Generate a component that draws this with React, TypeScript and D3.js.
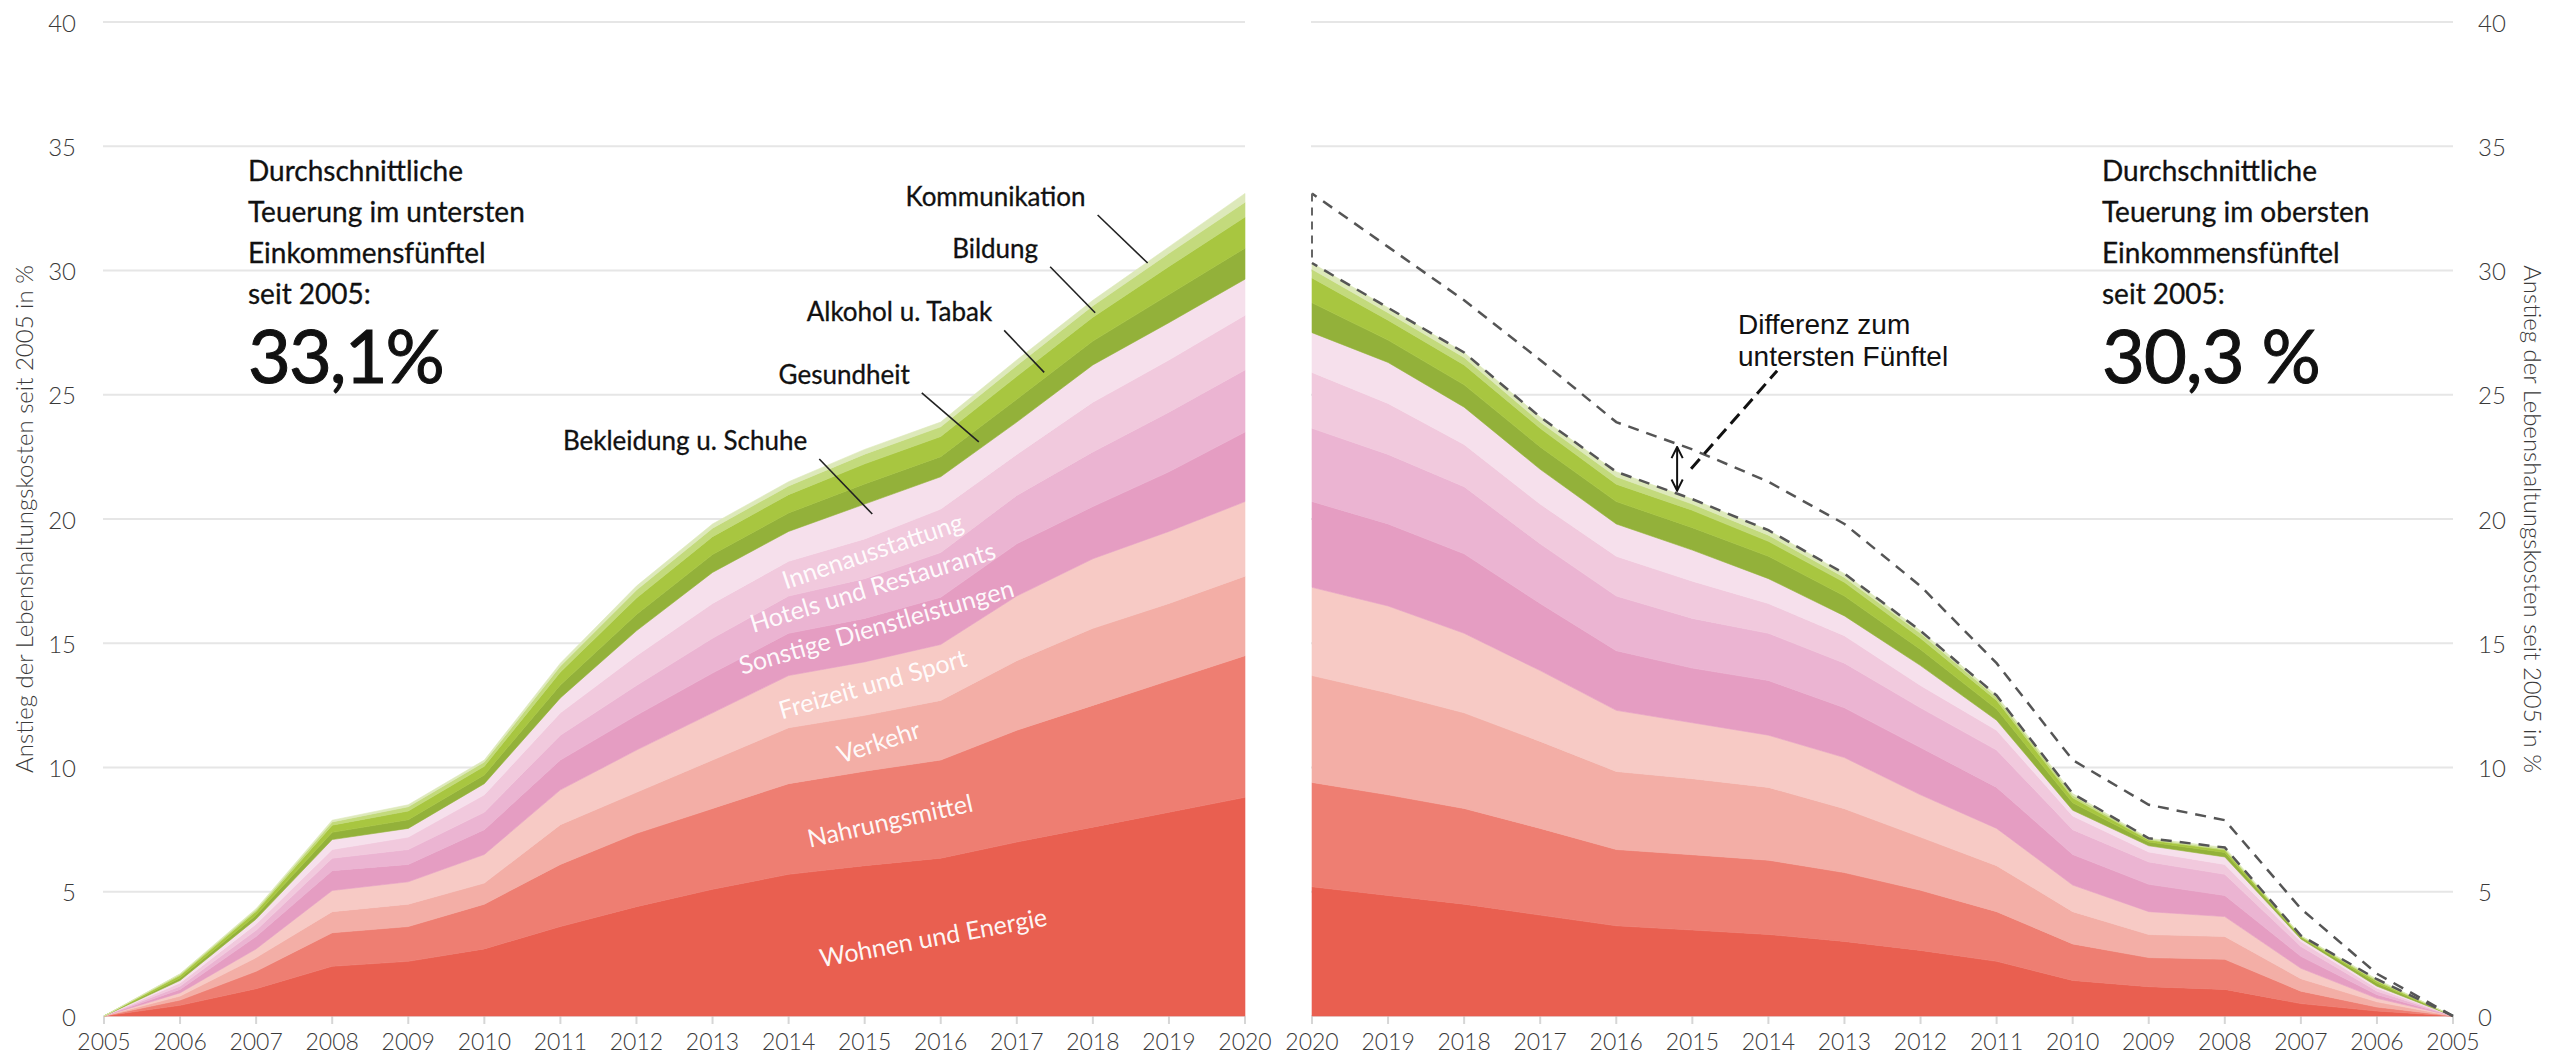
import * as d3 from 'd3';

// Teuerung nach Einkommensfünftel, Beiträge der Ausgabengruppen (Prozentpunkte)
const years = [2005, 2006, 2007, 2008, 2009, 2010, 2011, 2012, 2013, 2014, 2015, 2016, 2017, 2018, 2019, 2020];

const categories = [
  'Wohnen und Energie', 'Nahrungsmittel', 'Verkehr', 'Freizeit und Sport',
  'Sonstige Dienstleistungen', 'Hotels und Restaurants', 'Innenausstattung', 'Bekleidung u. Schuhe',
  'Gesundheit', 'Alkohol u. Tabak', 'Bildung', 'Kommunikation',
];

const colors = [
  '#e95f50', '#ee7e72', '#f3aea6', '#f7cac5',
  '#e59dc2', '#ebb4d2', '#f1c9dd', '#f6e0ec',
  '#93b13a', '#a8c640', '#c3da7c', '#dde9ba',
];

// unterstes Einkommensfünftel
const lowWohnen = [0, 0.43, 1.10, 2.00, 2.20, 2.70, 3.60, 4.40, 5.10, 5.70, 6.05, 6.35, 7.00, 7.60, 8.20, 8.80];
const lowNahrung = [0, 0.21, 0.70, 1.35, 1.40, 1.80, 2.50, 2.95, 3.25, 3.65, 3.80, 3.95, 4.50, 4.90, 5.30, 5.70];
const lowVerkehr = [0, 0.16, 0.55, 0.85, 0.90, 0.85, 1.60, 1.65, 1.95, 2.25, 2.25, 2.40, 2.80, 3.10, 3.10, 3.20];
const lowFreizeit = [0, 0.13, 0.35, 0.85, 0.90, 1.15, 1.40, 1.70, 1.90, 2.10, 2.15, 2.25, 2.60, 2.80, 2.90, 3.00];
const lowSonstige = [0, 0.14, 0.50, 0.80, 0.70, 1.00, 1.20, 1.40, 1.60, 1.70, 1.75, 1.90, 2.10, 2.10, 2.40, 2.80];
const lowHotels = [0, 0.13, 0.25, 0.50, 0.60, 0.70, 1.00, 1.20, 1.40, 1.50, 1.60, 1.80, 1.95, 2.20, 2.40, 2.50];
const lowInnen = [0, 0.13, 0.25, 0.35, 0.50, 0.70, 0.90, 1.20, 1.40, 1.40, 1.60, 1.75, 1.65, 2.00, 2.10, 2.20];
const lowBekleidung = [0, 0.10, 0.20, 0.40, 0.35, 0.45, 0.60, 1.00, 1.25, 1.20, 1.40, 1.30, 1.30, 1.50, 1.50, 1.45];
const lowGesundheit = [0, 0.10, 0.16, 0.29, 0.35, 0.35, 0.52, 0.66, 0.72, 0.74, 0.81, 0.81, 0.92, 0.96, 1.13, 1.25];
const lowAlkohol = [0, 0.10, 0.15, 0.29, 0.35, 0.35, 0.52, 0.66, 0.72, 0.74, 0.81, 0.81, 0.92, 0.96, 1.13, 1.25];
const lowBildung = [0, 0.05, 0.07, 0.13, 0.17, 0.17, 0.24, 0.32, 0.34, 0.35, 0.39, 0.39, 0.44, 0.46, 0.53, 0.60];
const lowKommunikation = [0, 0.02, 0.04, 0.07, 0.08, 0.08, 0.12, 0.16, 0.17, 0.17, 0.19, 0.19, 0.22, 0.22, 0.26, 0.35];

// oberstes Einkommensfünftel
const highWohnen = [0, 0.20, 0.50, 1.07, 1.18, 1.43, 2.20, 2.64, 3.00, 3.28, 3.46, 3.63, 4.06, 4.50, 4.85, 5.20];
const highNahrung = [0, 0.16, 0.50, 1.21, 1.17, 1.47, 2.00, 2.42, 2.77, 2.99, 3.03, 3.07, 3.49, 3.85, 4.05, 4.20];
const highVerkehr = [0, 0.21, 0.50, 0.92, 0.93, 1.30, 1.85, 2.14, 2.57, 2.93, 3.06, 3.14, 3.50, 3.85, 4.10, 4.30];
const highFreizeit = [0, 0.14, 0.42, 0.80, 0.92, 1.07, 1.50, 1.70, 2.06, 2.10, 2.25, 2.46, 2.85, 3.20, 3.50, 3.55];
const highSonstige = [0, 0.15, 0.48, 0.85, 1.10, 1.23, 1.65, 1.90, 2.00, 2.20, 2.20, 2.40, 2.70, 3.20, 3.30, 3.45];
const highHotels = [0, 0.14, 0.40, 0.85, 0.90, 1.00, 1.50, 1.60, 1.80, 1.90, 2.00, 2.20, 2.40, 2.70, 2.80, 2.95];
const highInnen = [0, 0.12, 0.20, 0.40, 0.40, 0.55, 0.80, 0.90, 1.10, 1.20, 1.50, 1.60, 1.60, 1.70, 2.05, 2.25];
const highBekleidung = [0, 0.08, 0.10, 0.30, 0.25, 0.23, 0.40, 0.80, 0.80, 1.00, 1.25, 1.30, 1.40, 1.50, 1.65, 1.60];
const highGesundheit = [0, 0.12, 0.06, 0.18, 0.15, 0.30, 0.45, 0.65, 0.80, 0.90, 0.90, 0.90, 0.90, 0.90, 0.90, 1.20];
const highAlkohol = [0, 0.08, 0.04, 0.10, 0.08, 0.20, 0.35, 0.45, 0.55, 0.60, 0.70, 0.70, 0.75, 0.80, 0.80, 1.00];
const highBildung = [0, 0.05, 0.02, 0.05, 0.04, 0.10, 0.12, 0.20, 0.20, 0.25, 0.25, 0.30, 0.25, 0.30, 0.30, 0.35];
const highKommunikation = [0, 0.03, 0.02, 0.05, 0.03, 0.07, 0.08, 0.10, 0.15, 0.20, 0.20, 0.20, 0.20, 0.20, 0.20, 0.25];

const lowSeries = [lowWohnen, lowNahrung, lowVerkehr, lowFreizeit, lowSonstige, lowHotels, lowInnen, lowBekleidung, lowGesundheit, lowAlkohol, lowBildung, lowKommunikation];
const highSeries = [highWohnen, highNahrung, highVerkehr, highFreizeit, highSonstige, highHotels, highInnen, highBekleidung, highGesundheit, highAlkohol, highBildung, highKommunikation];

const yTicks = [0, 5, 10, 15, 20, 25, 30, 35, 40];

const W = 2552;
const H = 1055;
const FONT = 'Lato, "Open Sans", sans-serif';

const xL = d3.scaleLinear().domain([2005, 2020]).range([104, 1245]);
const xR = d3.scaleLinear().domain([2020, 2005]).range([1312, 2453]);
const y = d3.scaleLinear().domain([0, 40]).range([1016, 22]);

function buildRows(series: number[][]) {
  return years.map((yr, i) => {
    const row: any = { year: yr };
    categories.forEach((c, k) => { row[c] = series[k][i]; });
    return row;
  });
}

const lowStack = d3.stack<any>().keys(categories)(buildRows(lowSeries));
const highStack = d3.stack<any>().keys(categories)(buildRows(highSeries));
const lowTotals = years.map((_, i) => d3.sum(lowSeries, s => s[i]));
const highTotals = years.map((_, i) => d3.sum(highSeries, s => s[i]));

// inner white labels: year / value on the left panel, rotation in degrees
const innerLabels = [
  { name: 'Wohnen und Energie', year: 2015.9, value: 3.2, angle: -10.5 },
  { name: 'Nahrungsmittel', year: 2015.33, value: 7.9, angle: -12.5 },
  { name: 'Verkehr', year: 2015.18, value: 11.07, angle: -18 },
  { name: 'Freizeit und Sport', year: 2015.1, value: 13.4, angle: -16 },
  { name: 'Sonstige Dienstleistungen', year: 2015.15, value: 15.7, angle: -16 },
  { name: 'Hotels und Restaurants', year: 2015.1, value: 17.3, angle: -17 },
  { name: 'Innenausstattung', year: 2015.1, value: 18.75, angle: -18.5 },
];

// leader labels: line end in data, line start offset in px
const leaderLabels = [
  { name: 'Kommunikation', year: 2018.72, value: 30.3, dx: -50, dy: -48 },
  { name: 'Bildung', year: 2018.03, value: 28.3, dx: -45, dy: -46 },
  { name: 'Alkohol u. Tabak', year: 2017.36, value: 25.9, dx: -40, dy: -42 },
  { name: 'Gesundheit', year: 2016.5, value: 23.1, dx: -57, dy: -49 },
  { name: 'Bekleidung u. Schuhe', year: 2015.1, value: 20.2, dx: -53, dy: -55 },
];

const arrowYear = 2015.2;

function Panel({ stack, x }: { stack: any[]; x: d3.ScaleLinear<number, number> }) {
  const area = d3.area<any>()
    .x(d => x(d.data.year))
    .y0(d => y(d[0]))
    .y1(d => y(d[1]));
  return (
    <g>
      {stack.map((layer, i) => (
        <path key={layer.key} d={area(layer) || ''} fill={colors[i]} stroke={colors[i]} strokeWidth={0.6} />
      ))}
    </g>
  );
}

function Grid({ x }: { x: d3.ScaleLinear<number, number> }) {
  const [a, b] = x.range();
  const x0 = Math.min(a, b);
  const x1 = Math.max(a, b);
  return (
    <g>
      {yTicks.map(t => (
        <line key={t} x1={x0 - 1} x2={x1} y1={y(t)} y2={y(t)} stroke="#e6e6e6" strokeWidth={2} />
      ))}
      {years.map(yr => (
        <g key={yr}>
          <line x1={x(yr)} x2={x(yr)} y1={y(0)} y2={y(0) + 8} stroke="#d6d6d6" strokeWidth={2} />
          <text x={x(yr)} y={1050} textAnchor="middle" fontSize={23} fill="#3a3a3a" fontWeight={300}>{yr}</text>
        </g>
      ))}
    </g>
  );
}

function TextBlock({ x, lines, big, spacing }: { x: number; lines: string[]; big: string; spacing: number }) {
  return (
    <g fill="#111">
      {lines.map((l, i) => (
        <text key={i} x={x} y={181 + i * 41} fontSize={28} stroke="#111" strokeWidth={0.3}>{l}</text>
      ))}
      <text x={x} y={383} fontSize={74} letterSpacing={spacing} stroke="#111" strokeWidth={1}>{big}</text>
    </g>
  );
}

export default function App() {
  const lowAt = d3.scaleLinear().domain(years).range(lowTotals);
  const highAt = d3.scaleLinear().domain(years).range(highTotals);
  const line = d3.line<number>().x((_, i) => xR(years[i])).y(v => y(v));

  const ax = xR(arrowYear);
  const ayTop = y(lowAt(arrowYear)) + 3;
  const ayBot = y(highAt(arrowYear)) - 3;
  const midY = (ayTop + ayBot) / 2;

  return (
    <svg width={W} height={H} viewBox={`0 0 ${W} ${H}`} fontFamily={FONT}
      style={{ position: 'absolute', left: 0, top: 0, display: 'block', background: '#fff' }}>
      <defs>
        <marker id="ah" viewBox="0 0 10 10" refX="9" refY="5" markerWidth="7" markerHeight="7" orient="auto-start-reverse">
          <path d="M1,1 L9,5 L1,9" fill="none" stroke="#111" strokeWidth={1.4} />
        </marker>
      </defs>
      <rect width={W} height={H} fill="#fff" />

      <Grid x={xL} />
      <Grid x={xR} />

      <Panel stack={lowStack} x={xL} />
      <Panel stack={highStack} x={xR} />

      {/* dashed comparison lines on the right panel */}
      <path d={line(lowTotals) || ''} fill="none" stroke="#555" strokeWidth={2.5} strokeDasharray="11,8" />
      <path d={line(highTotals) || ''} fill="none" stroke="#555" strokeWidth={2.5} strokeDasharray="11,8" />
      <line x1={xR(2020)} x2={xR(2020)} y1={y(lowTotals[15])} y2={y(highTotals[15])} stroke="#666" strokeWidth={2} strokeDasharray="8,6" />

      {/* y axes */}
      {yTicks.map(t => (
        <g key={t} fontSize={24} fill="#3a3a3a" fontWeight={300}>
          <text x={76} y={y(t)} textAnchor="end" dominantBaseline="central">{t}</text>
          <text x={2478} y={y(t)} textAnchor="start" dominantBaseline="central">{t}</text>
        </g>
      ))}
      <text transform={`translate(23,${y(20)}) rotate(-90)`} textAnchor="middle" dominantBaseline="central" fontSize={24} fill="#3a3a3a" fontWeight={300}>
        Anstieg der Lebenshaltungskosten seit 2005 in %
      </text>
      <text transform={`translate(2533,${y(20)}) rotate(90)`} textAnchor="middle" dominantBaseline="central" fontSize={24} fill="#3a3a3a" fontWeight={300}>
        Anstieg der Lebenshaltungskosten seit 2005 in %
      </text>

      {/* inner labels */}
      {innerLabels.map(l => (
        <text key={l.name} transform={`translate(${xL(l.year)},${y(l.value)}) rotate(${l.angle})`}
          textAnchor="middle" dominantBaseline="central" fontSize={25} fill="#fff" fillOpacity={0.95}>
          {l.name}
        </text>
      ))}

      {/* leader labels */}
      {leaderLabels.map(l => {
        const ex = xL(l.year);
        const ey = y(l.value);
        const sx = ex + l.dx;
        const sy = ey + l.dy;
        return (
          <g key={l.name}>
            <line x1={sx} y1={sy} x2={ex} y2={ey} stroke="#222" strokeWidth={1.6} />
            <text x={sx - 12} y={sy - 9} textAnchor="end" fontSize={26} fill="#111" stroke="#111" strokeWidth={0.3}>{l.name}</text>
          </g>
        );
      })}

      {/* difference annotation */}
      <line x1={ax} x2={ax} y1={ayTop} y2={ayBot} stroke="#111" strokeWidth={2}
        markerStart="url(#ah)" markerEnd="url(#ah)" />
      <line x1={ax + 14} y1={midY} x2={ax + 100} y2={midY - 98} stroke="#111" strokeWidth={3} strokeDasharray="13,7" />
      <g fontFamily='"Liberation Sans", Arial, sans-serif' fontSize={28} fill="#111">
        <text x={1738} y={334}>Differenz zum</text>
        <text x={1738} y={366}>untersten Fünftel</text>
      </g>

      <TextBlock x={248} lines={['Durchschnittliche', 'Teuerung im untersten', 'Einkommensfünftel', 'seit 2005:']} big="33,1%" spacing={-2} />
      <TextBlock x={2102} lines={['Durchschnittliche', 'Teuerung im obersten', 'Einkommensfünftel', 'seit 2005:']} big="30,3 %" spacing={-1} />
    </svg>
  );
}
